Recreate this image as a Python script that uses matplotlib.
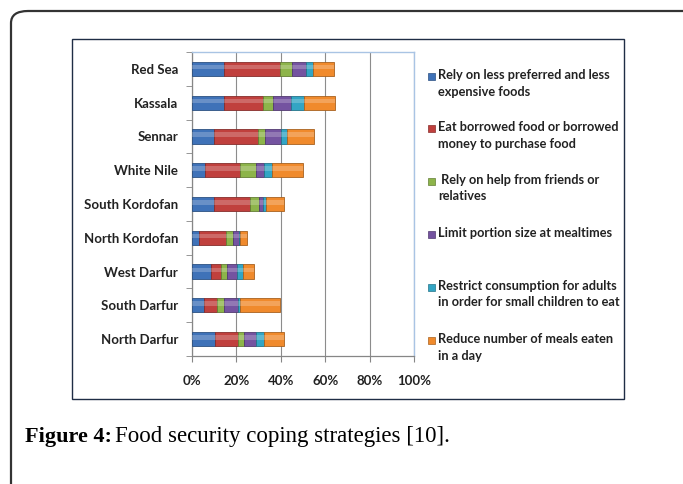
import matplotlib
matplotlib.use("Agg")
import matplotlib.pyplot as plt
from matplotlib.patches import FancyBboxPatch, Rectangle
import matplotlib.colors as mcolors
import numpy as np

# States, listed from the bottom of the chart to the top
states = ["North Darfur", "South Darfur", "West Darfur", "North Kordofan",
          "South Kordofan", "White Nile", "Sennar", "Kassala", "Red Sea"]

# Share of households (%) using each coping strategy, per state (same order)
less_preferred = [10.5, 5.3, 8.6, 3.3, 10.1, 6.0, 9.8, 14.6, 14.6]
borrowed_food = [10.2, 6.0, 4.5, 12.2, 16.2, 15.8, 19.8, 17.3, 24.9]
help_friends = [2.9, 3.3, 2.7, 3.0, 4.0, 7.0, 3.4, 4.7, 5.5]
limit_portion = [5.2, 6.1, 4.5, 2.8, 1.7, 3.8, 7.1, 8.2, 6.4]
restrict_adults = [3.8, 0.8, 2.7, 0.5, 1.3, 3.4, 2.7, 5.7, 3.0]
reduce_meals = [9.0, 18.3, 4.8, 3.0, 8.3, 13.8, 12.0, 13.7, 9.7]

series_labels = [
    "Rely on less preferred and less\nexpensive foods",
    "Eat borrowed food or borrowed\nmoney to purchase food",
    " Rely on help from friends or\nrelatives",
    "Limit portion size at mealtimes",
    "Restrict consumption for adults\nin order for small children to eat",
    "Reduce number of meals eaten\nin a day",
]
series_colors = ["#3F72B8", "#C0403D", "#8DB44A", "#7453A0", "#33A5C4", "#F08A2C"]
x_ticks = [0, 20, 40, 60, 80, 100]
x_tick_labels = ["0%", "20%", "40%", "60%", "80%", "100%"]

series = [less_preferred, borrowed_food, help_friends, limit_portion,
          restrict_adults, reduce_meals]

W, H = 683, 484
fig = plt.figure(figsize=(W / 100, H / 100), dpi=100)
fig.patch.set_facecolor("white")

label_font = "Lato"

# outer page frame; only its top-left corner lies inside the page
frame = FancyBboxPatch((11 / W, -0.2), 1.2, 1 - 11 / H + 0.2,
                       boxstyle="round,pad=0,rounding_size=0.025",
                       transform=fig.transFigure, fill=False,
                       edgecolor="#333333", linewidth=1.6, clip_on=False)
fig.patches.append(frame)

# chart box
box = Rectangle((72 / W, 1 - 399 / H), (624 - 72) / W, (399 - 39) / H,
                transform=fig.transFigure, fill=False,
                edgecolor="#1F2D45", linewidth=1.0)
fig.patches.append(box)

ax = fig.add_axes([192 / W, 1 - 356 / H, 222 / W, 304 / H])
ax.set_xlim(0, 100)
ax.set_ylim(-0.5, len(states) - 0.5)

y = np.arange(len(states))
bar_h = 0.42
left = np.zeros(len(states))
for vals, col in zip(series, series_colors):
    vals = np.asarray(vals)
    dark = np.array(mcolors.to_rgb(col)) * 0.7
    ax.barh(y, vals, left=left, height=bar_h, color=col,
            edgecolor=dark, linewidth=0.6, zorder=3)
    # bevel highlight along the upper half of each segment
    ax.barh(y + bar_h * 0.12, vals, left=left, height=bar_h * 0.32,
            color="white", alpha=0.22, linewidth=0, zorder=4)
    left += vals

ax.set_xticks(x_ticks)
ax.set_xticklabels(x_tick_labels, fontfamily=label_font, fontweight="bold",
                   fontsize=9.5, color="#222222")
ax.set_yticks(y)
ax.set_yticklabels(states, fontfamily=label_font, fontweight="bold",
                   fontsize=9.5, color="#222222")
ax.tick_params(axis="y", length=0, pad=10)
ax.tick_params(axis="x", length=4, direction="out", color="#868686", pad=10)
# minor ticks between categories on the vertical axis
ax.set_yticks(np.arange(-0.5, len(states), 1), minor=True)
ax.tick_params(axis="y", which="minor", length=4, color="#868686")

ax.grid(axis="x", color="#8C8C8C", linewidth=0.8, zorder=0)
ax.set_axisbelow(True)
for s in ["left", "bottom"]:
    ax.spines[s].set_color("#868686")
    ax.spines[s].set_linewidth(0.9)
for s in ["top", "right"]:
    ax.spines[s].set_color("#A9C4E4")
    ax.spines[s].set_linewidth(1.0)

# legend, built item by item
legend_y = [76, 128, 181, 234, 287, 340]
for lab, col, ly in zip(series_labels, series_colors, legend_y):
    fig.patches.append(Rectangle((428 / W, 1 - (ly + 4) / H), 7 / W, 7 / H,
                                 transform=fig.transFigure, facecolor=col,
                                 edgecolor=np.array(mcolors.to_rgb(col)) * 0.7,
                                 linewidth=0.5))
    fig.text(438 / W, 1 - (ly - 7) / H, lab, fontfamily=label_font,
             fontweight="bold", fontsize=9.2, color="#222222",
             va="top", ha="left", linespacing=1.45)

# caption
cap = fig.text(25 / W, 1 - 442 / H, "Figure 4:", fontfamily="Liberation Serif",
               fontweight="bold", fontsize=16, va="baseline", ha="left")
ax.annotate("Food security coping strategies [10].", xy=(1, 0),
            xycoords=cap, xytext=(2.5, 0), textcoords="offset points",
            fontfamily="Liberation Serif", fontsize=16.5,
            va="bottom", ha="left", annotation_clip=False)

fig.savefig("out.png", dpi=100)
